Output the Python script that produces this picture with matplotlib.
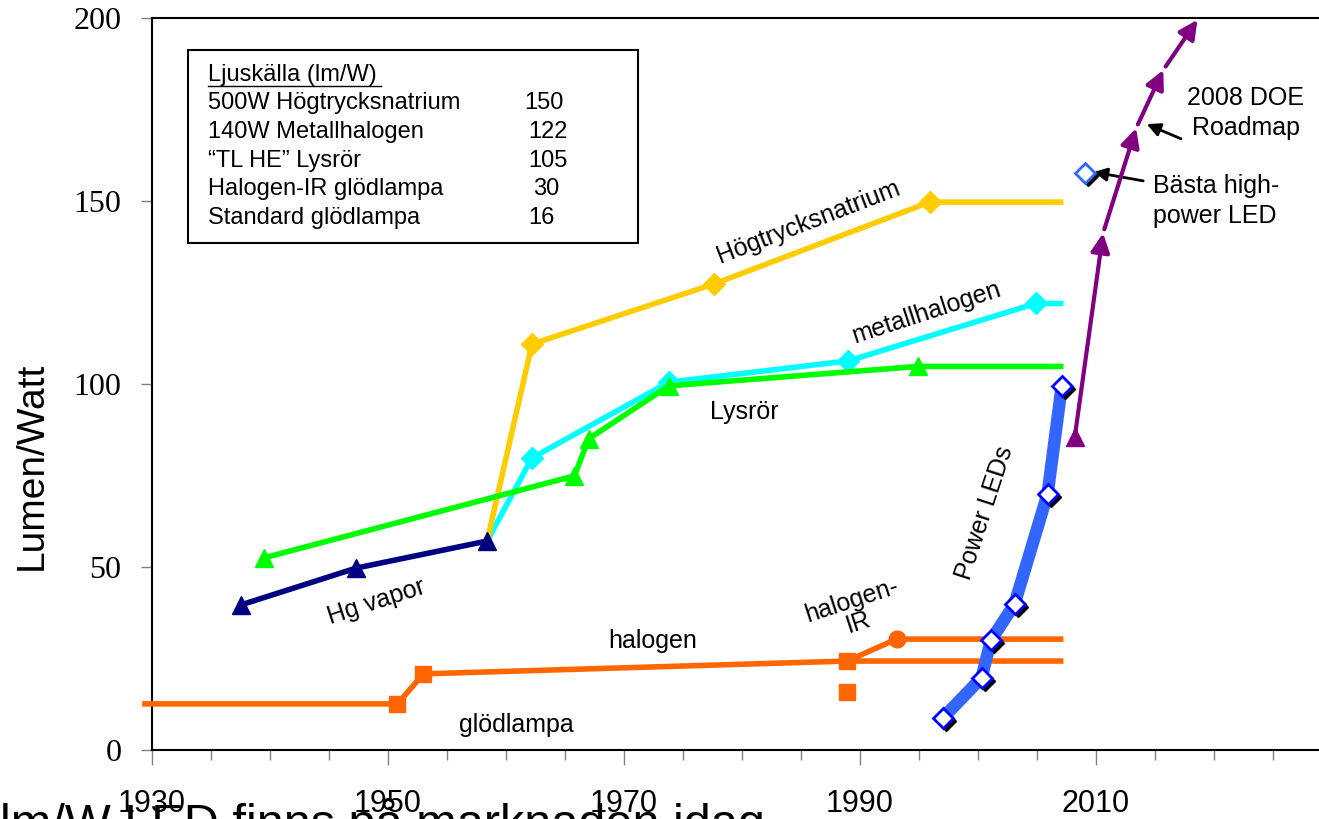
import matplotlib
matplotlib.use('Agg')
import matplotlib.pyplot as plt
from matplotlib.patches import Rectangle
from matplotlib.lines import Line2D
from matplotlib.transforms import offset_copy
from matplotlib.ticker import FixedLocator, MultipleLocator

# Data (year, lumen per watt)
gl_years = [1929.4, 1950.8, 1953.0, 1988.9, 2007.0]
gl_eff = [12.6, 12.6, 20.8, 24.3, 24.3]
std_year, std_eff = 1988.9, 15.8

hir_years = [1988.9, 1993.1, 2007.0]
hir_eff = [24.3, 30.3, 30.3]

hg_years = [1937.5, 1947.3, 1958.4]
hg_eff = [39.6, 49.7, 57.1]

lys_years = [1939.5, 1965.8, 1967.0, 1973.8, 1994.9, 2007.0]
lys_eff = [52.5, 74.9, 85.0, 99.5, 104.8, 104.8]

mh_years = [1958.4, 1962.2, 1973.8, 1989.0, 2004.9, 2007.0]
mh_eff = [57.1, 79.8, 100.5, 106.3, 122.0, 122.0]

hps_years = [1958.4, 1962.2, 1977.6, 1995.9, 2007.0]
hps_eff = [57.1, 110.9, 127.3, 149.7, 149.7]

led_years = [1997.0, 2000.3, 2001.1, 2003.1, 2005.9, 2007.1]
led_eff = [8.7, 19.7, 30.0, 39.9, 70.0, 99.5]
best_year, best_eff = 2009.1, 157.7

road_years = [2008.2, 2010.6, 2013.4, 2015.7, 2018.6]
road_eff = [85.5, 141.2, 169.9, 185.8, 199.5]

year_ticks = [1930, 1950, 1970, 1990, 2010]

table_names = ['500W Högtrycksnatrium', '140W Metallhalogen', '\u201cTL HE\u201d Lysrör',
               'Halogen-IR glödlampa', 'Standard glödlampa']
table_values = ['150', '122', '105', '30', '16']

ORANGE = '#FF6600'
sans = 'Liberation Sans'

fig = plt.figure(figsize=(13.19, 8.19), dpi=100)
W, H = 1319, 819
ax = fig.add_axes([152 / W, 1 - 750 / H, 1180 / W, 732 / H])
ax.set_xlim(1930, 2030)
ax.set_ylim(0, 200)

# lines
ax.plot(gl_years, gl_eff, color=ORANGE, lw=4, marker='s', ms=12, markevery=[1, 2, 3],
        clip_on=False, zorder=3)
ax.plot([std_year], [std_eff], color=ORANGE, marker='s', ms=12, ls='none', zorder=3)
ax.plot(hir_years, hir_eff, color=ORANGE, lw=4, marker='o', ms=12, markevery=[1], zorder=3)
ax.plot(mh_years, mh_eff, color='#00FFFF', lw=4, marker='D', ms=11, markevery=[1, 2, 3, 4], zorder=3)
ax.plot(hps_years, hps_eff, color='#FFCC00', lw=4, marker='D', ms=11, markevery=[1, 2, 3], zorder=3)
ax.plot(lys_years, lys_eff, color='#00FF00', lw=4, marker='^', ms=13, markevery=[0, 1, 2, 3, 4], zorder=4)
ax.plot(hg_years, hg_eff, color='#000080', lw=4, marker='^', ms=13, zorder=5)

# power LEDs with shadowed diamonds
ax.plot(led_years, led_eff, color='#3366FF', lw=9, solid_capstyle='butt',
        solid_joinstyle='round', zorder=5)
shadow = offset_copy(ax.transData, fig=fig, x=3, y=-3, units='dots')
ax.plot(led_years + [best_year], led_eff + [best_eff], ls='none', marker='D', ms=10,
        color='black', transform=shadow, zorder=6)
ax.plot(led_years, led_eff, ls='none', marker='D', ms=10, mfc='white', mec='#0000FF',
        mew=2, zorder=7)
ax.plot([best_year], [best_eff], ls='none', marker='D', ms=10, mfc='white', mec='#3366FF',
        mew=2, zorder=7)

# DOE roadmap arrows
for i in range(len(road_years) - 1):
    ax.annotate('', xy=(road_years[i + 1], road_eff[i + 1]), xytext=(road_years[i], road_eff[i]),
                arrowprops=dict(arrowstyle='-|>', color='#800080', lw=3, mutation_scale=28,
                                shrinkA=3, shrinkB=0), annotation_clip=False, zorder=6)
ax.plot(road_years[:1], road_eff[:1], ls='none', marker='^', ms=13, color='#800080', zorder=6)

# series labels
lab = dict(fontsize=18, family=sans, ha='center', va='center')
ax.text(1985.6, 144.3, 'Högtrycksnatrium', rotation=21, **lab)
ax.text(1995.6, 119.4, 'metallhalogen', rotation=18, **lab)
ax.text(1980.2, 92.3, 'Lysrör', **lab)
ax.text(1949.0, 40.4, 'Hg vapor', rotation=18, **lab)
ax.text(1972.4, 29.8, 'halogen', **lab)
ax.text(1960.9, 6.8, 'glödlampa', **lab)
ax.text(1989.6, 37.7, 'halogen-\nIR', rotation=18, linespacing=0.95, **lab)
ax.text(2000.6, 64.8, 'Power LEDs', rotation=72, **lab)

ax.text(2022.7, 174.0, '2008 DOE\nRoadmap', fontsize=18, family=sans, ha='center',
        va='center', linespacing=1.3)
ax.annotate('', xy=(2014.3, 171.0), xytext=(2017.2, 167.0),
            arrowprops=dict(arrowstyle='-|>', color='black', lw=2, mutation_scale=20,
                            shrinkA=0, shrinkB=0))
ax.text(2014.8, 150.0, 'Bästa high-\npower LED', fontsize=18, family=sans, ha='left',
        va='center', linespacing=1.3)
ax.annotate('', xy=(2009.8, 157.9), xytext=(2014.0, 155.5),
            arrowprops=dict(arrowstyle='-|>', color='black', lw=2, mutation_scale=20,
                            shrinkA=0, shrinkB=0))

# axes styling
for s in ['left', 'bottom', 'top']:
    ax.spines[s].set_linewidth(1.5)
ax.spines['right'].set_visible(False)
ax.xaxis.set_major_locator(FixedLocator(year_ticks))
ax.xaxis.set_minor_locator(MultipleLocator(5))
ax.yaxis.set_major_locator(MultipleLocator(50))
ax.tick_params(axis='x', which='major', length=11, width=1, color='#808080', pad=17,
               labelsize=22)
ax.tick_params(axis='x', which='minor', length=7, width=1, color='#808080')
ax.tick_params(axis='y', which='major', length=8, width=1, color='#808080', pad=14,
               labelsize=23)
for t in ax.get_xticklabels():
    t.set_family(sans)
for t in ax.get_yticklabels():
    t.set_family('Liberation Serif')

fig.text(32 / W, 1 - 466 / H, 'Lumen/Watt', rotation=90, fontsize=28, family=sans,
         ha='center', va='center')

# table box
fig.add_artist(Rectangle((188 / W, 1 - 243 / H), 450 / W, 193 / H, transform=fig.transFigure,
                         fill=False, lw=1.5, ec='black'))
fig.text(208 / W, 1 - 75 / H, 'Ljuskälla (lm/W)', fontsize=17, family=sans, va='center')
fig.add_artist(Line2D([208 / W, 381 / W], [1 - 86 / H, 1 - 86 / H], transform=fig.transFigure,
                      color='black', lw=1))
val_x = [524, 528, 528, 533, 528]
for i, (name, val) in enumerate(zip(table_names, table_values)):
    y = 1 - (103 + 28.8 * i) / H
    fig.text(208 / W, y, name, fontsize=17, family=sans, va='center')
    fig.text(val_x[i] / W, y, val, fontsize=17, family=sans, va='center')

# cut-off caption at the bottom
fig.text(0, 1 - 838 / H, 'lm/W LED finns på marknaden idag', fontsize=35, family=sans,
         va='baseline', ha='left')

fig.savefig('out.png', dpi=100)
